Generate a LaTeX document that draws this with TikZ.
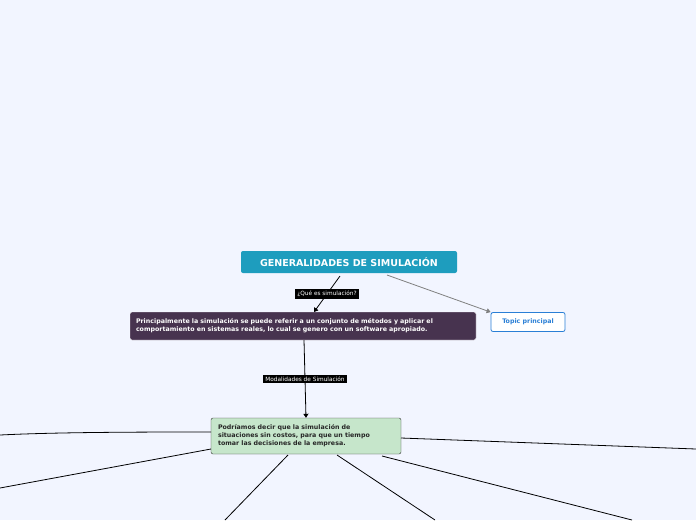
\documentclass[tikz,border=0pt]{standalone}
\usepackage{fontspec}
\setmainfont{DejaVu Sans}
\usetikzlibrary{arrows.meta}
\definecolor{bgblue}{HTML}{F2F5FF}
\definecolor{roottea}{HTML}{1E9DBE}
\definecolor{plum}{HTML}{47334F}
\definecolor{mint}{HTML}{C6E6CB}
\definecolor{linkblue}{HTML}{2A7FD6}
\tikzstyle{rootbox} = [rectangle, rounded corners=2pt, minimum width=216pt, minimum height=22pt, text centered, fill=roottea, text=white, font=\bfseries\fontsize{9.5}{11}\selectfont]
\tikzstyle{plumbox} = [rectangle, rounded corners=2pt, minimum width=346pt, minimum height=28pt, align=left, text width=334pt, fill=plum, draw=white, text=white, font=\bfseries\fontsize{6.3}{8}\selectfont]
\tikzstyle{topicbox} = [rectangle, rounded corners=2pt, minimum width=74pt, minimum height=19pt, text centered, fill=white, draw=linkblue, thick, text=linkblue, font=\bfseries\fontsize{6.3}{8}\selectfont]
\tikzstyle{mintbox} = [rectangle, rounded corners=2pt, minimum width=190pt, minimum height=36pt, align=left, text width=176pt, fill=mint, draw=black!80, text=black!85, font=\bfseries\fontsize{6.3}{8}\selectfont]
\tikzstyle{tag} = [rectangle, fill=black, text=white, inner sep=2pt, font=\fontsize{5.8}{7}\selectfont]
\tikzstyle{arrow} = [thick,-{Triangle[length=4pt,width=5pt]}]
\begin{document}
\begin{tikzpicture}[x=1pt,y=-1pt]
\fill[bgblue] (0,0) rectangle (696,520);
\useasboundingbox (0,0) rectangle (696,520);

% Nodes
\node (root) [rootbox] at (349,262) {GENERALIDADES DE SIMULACIÓN};
\node (sim) [plumbox] at (303,326) {Principalmente la simulación se puede referir a un conjunto de métodos y aplicar el\\comportamiento en sistemas reales, lo cual se genero con un software apropiado.};
\node (topic) [topicbox] at (528,322) {Topic principal};
\node (podria) [mintbox] at (306,436) {Podríamos decir que la simulación de\\situaciones sin costos, para que un tiempo\\tomar las decisiones de la empresa.};
\coordinate (rootout) at (340,276);
\coordinate (rootside) at (387,275);
\coordinate (simtop) at (314,312);
\coordinate (simbot) at (304,340);
\coordinate (p1) at (211,432);
\coordinate (p2) at (211,449);
\coordinate (p3) at (288,455);
\coordinate (p4) at (337,455);
\coordinate (p5) at (382,456);
\coordinate (p6) at (401,438);
\coordinate (e1) at (0,435);
\coordinate (e2) at (0,488);
\coordinate (e3) at (225,520);
\coordinate (e4) at (435,520);
\coordinate (e5) at (632,520);
\coordinate (e6) at (696,449);

% Arrows
\draw [arrow] (rootout) -- (simtop) node[midway, tag]{¿Qué es simulación?};
\draw [arrow, gray] (rootside) -- (topic.north west);
\draw [arrow] (simbot) -- (podria.north) node[midway, tag]{Modalidades de Simulación};
\draw [thick] (p1) .. controls (150,432) and (60,432) .. (e1);
\draw [thick] (p2) -- (e2);
\draw [thick] (p3) -- (e3);
\draw [thick] (p4) -- (e4);
\draw [thick] (p5) -- (e5);
\draw [thick] (p6) -- (e6);
\end{tikzpicture}
\end{document}
